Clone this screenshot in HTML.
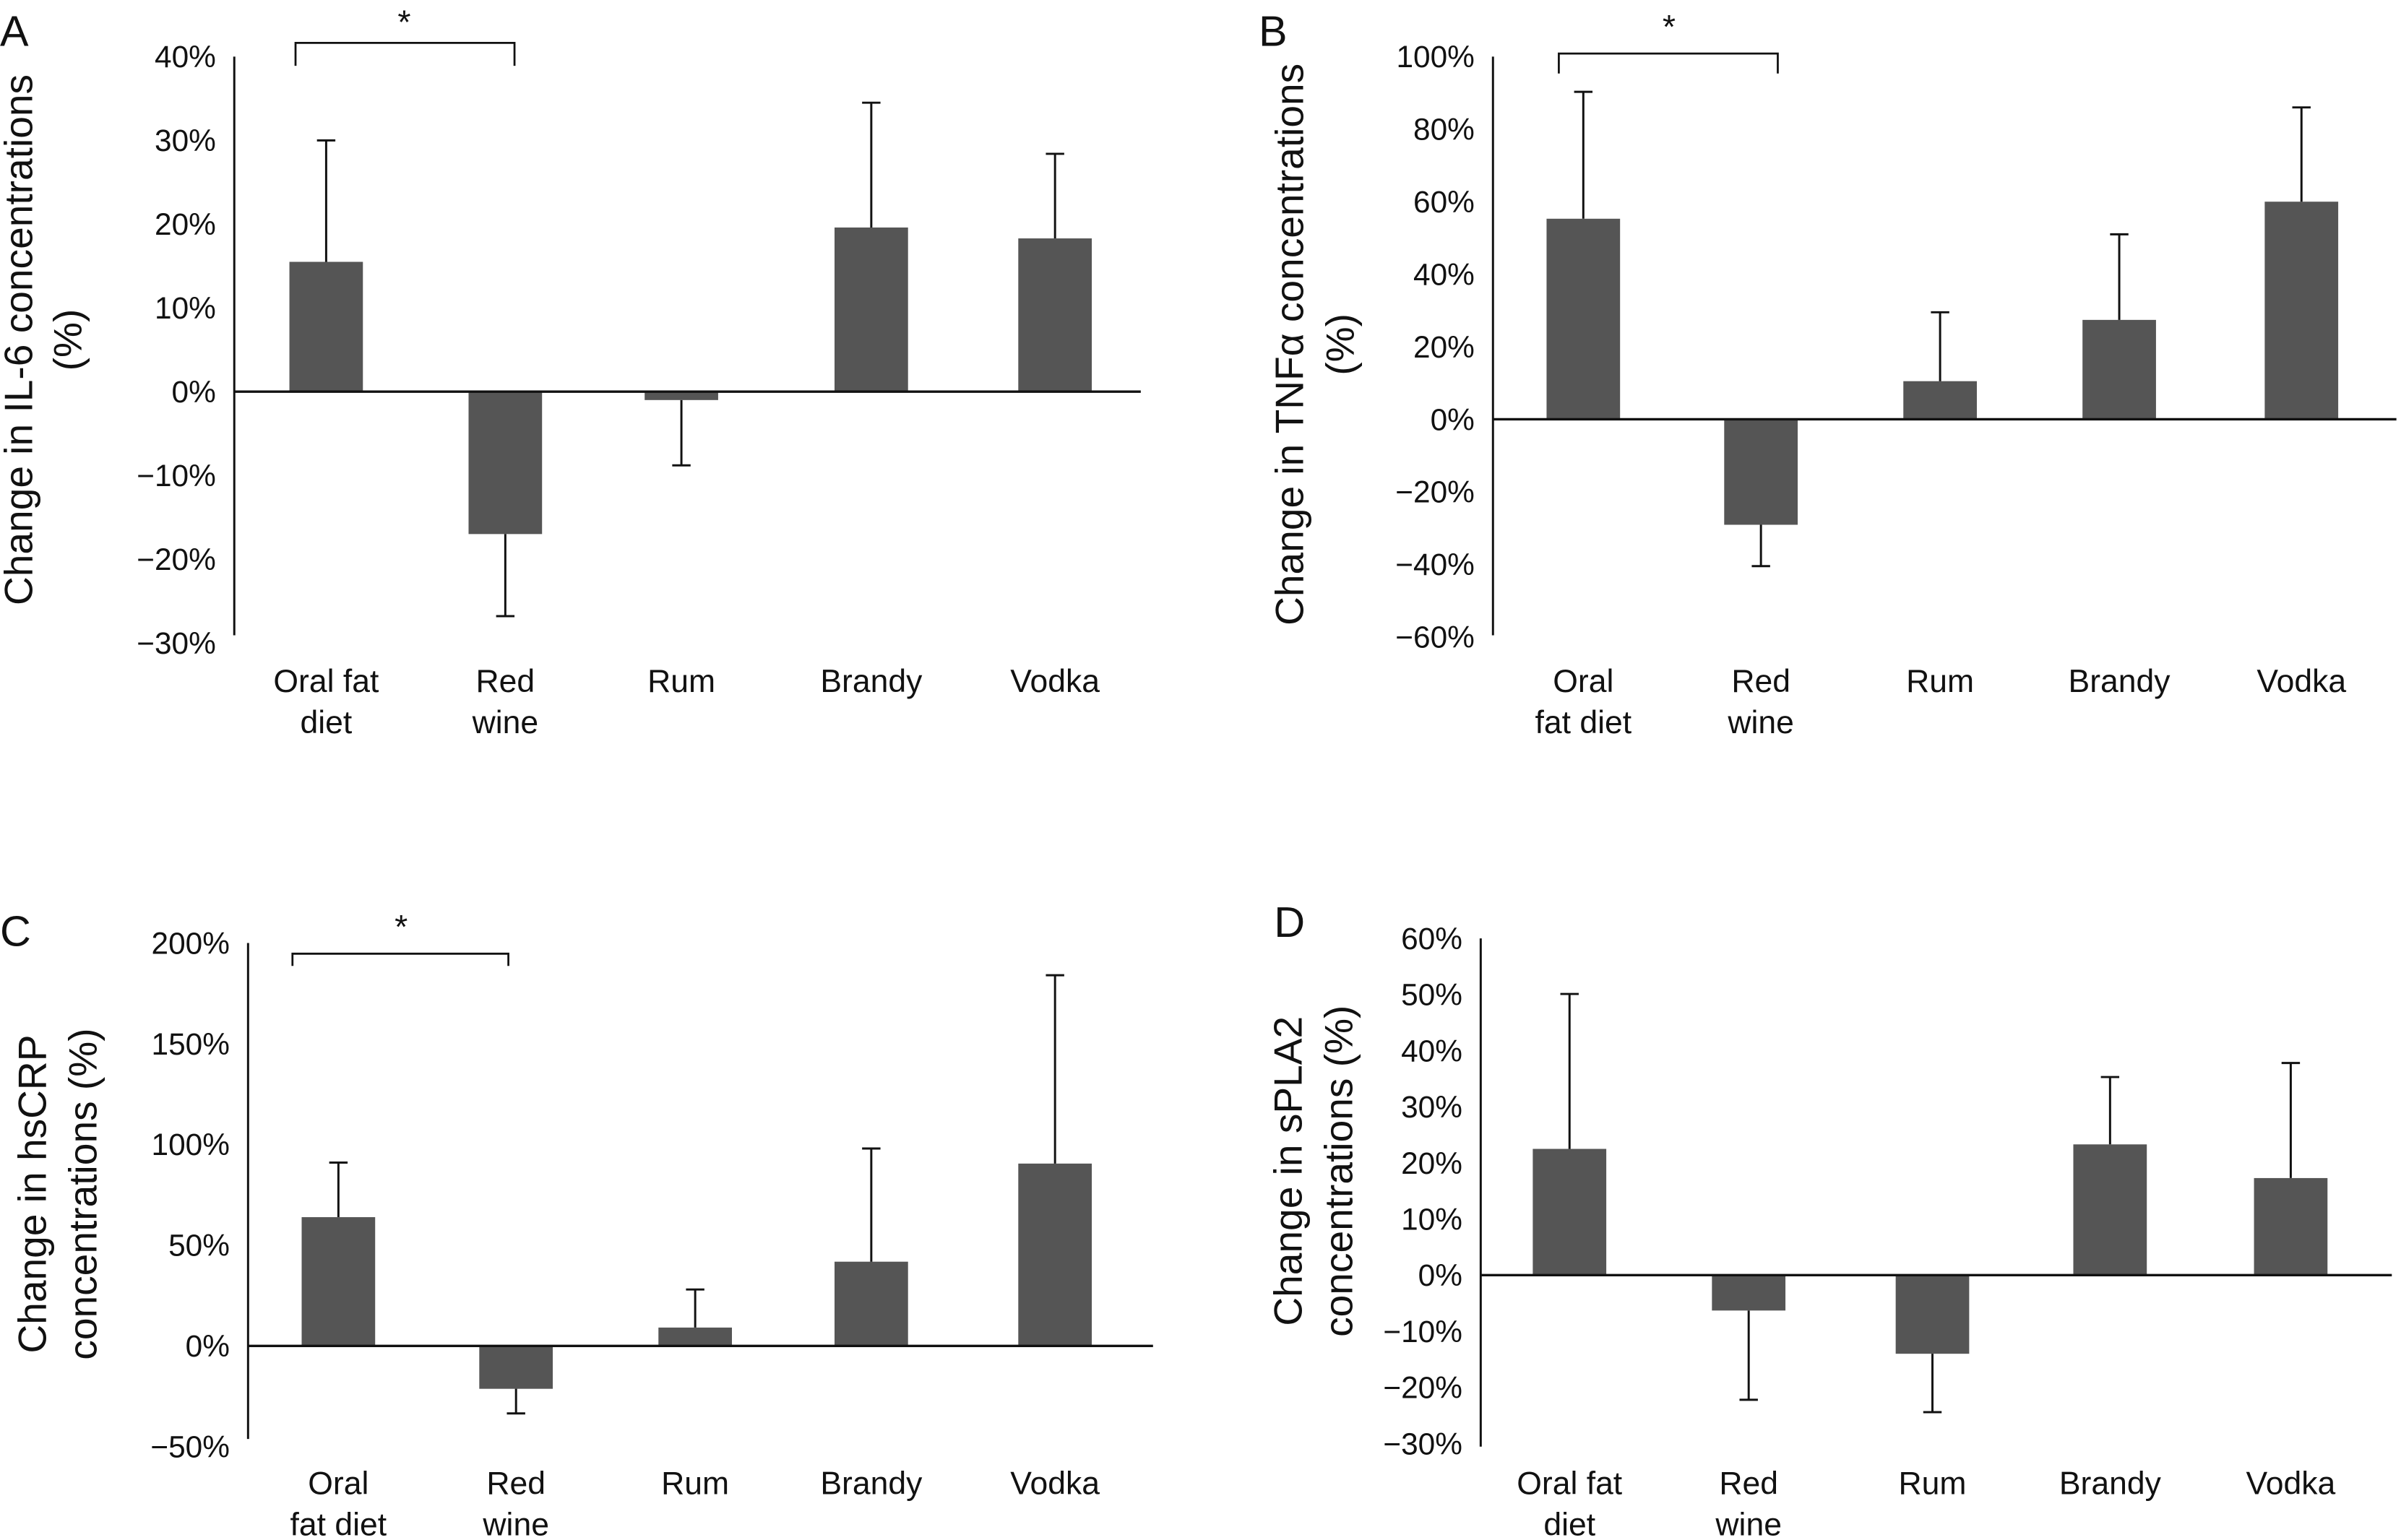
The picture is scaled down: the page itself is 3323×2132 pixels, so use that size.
<!DOCTYPE html>
<html><head><meta charset="utf-8"><style>
html,body{margin:0;padding:0;background:#fff;}
svg{display:block;}
text{font-family:"Liberation Sans",sans-serif;fill:#111;}
</style></head><body>
<svg id="fig" width="3323" height="2132" viewBox="0 0 1568 1006" preserveAspectRatio="none" xmlns="http://www.w3.org/2000/svg"></svg>
<script>
const categories = ["Oral fat diet","Red wine","Rum","Brandy","Vodka"];
const il6Values = [15.5, -17, -1, 19.6, 18.3];
const il6Errors = [30, -26.8, -8.8, 34.5, 28.4];
const il6Ticks = [40,30,20,10,0,-10,-20,-30];
const tnfValues = [55.3, -29.1, 10.5, 27.4, 60];
const tnfErrors = [90.3, -40.5, 29.5, 51, 86];
const tnfTicks = [100,80,60,40,20,0,-20,-40,-60];
const crpValues = [63.9, -21.3, 9.1, 41.8, 90.5];
const crpErrors = [91, -33.5, 28, 98, 184];
const crpTicks = [200,150,100,50,0,-50];
const splaValues = [22.5, -6.3, -14, 23.3, 17.3];
const splaErrors = [50.1, -22.2, -24.4, 35.3, 37.8];
const splaTicks = [60,50,40,30,20,10,0,-10,-20,-30];

const NS="http://www.w3.org/2000/svg";
const svg=document.getElementById('fig');
function mk(tag,attrs,parent){const e=document.createElementNS(NS,tag);for(const k in attrs)e.setAttribute(k,attrs[k]);(parent||svg).appendChild(e);return e;}

const panels=[
 {id:"a",letter:"A",lx:0,ly:30,ax:153,xEnd:745,yTop:37,yBot:420,axBot:415,vmax:40,vmin:-30,ticks:il6Ticks,vals:il6Values,errs:il6Errors,
  cx:[213,330,445,569,689],labY:444,labels:[["Oral fat","diet"],["Red","wine"],["Rum"],["Brandy"],["Vodka"]],
  title:["Change in IL-6 concentrations","(%)"],tx:[21,53],tcy:222,br:[193,336,28,43,264,22]},
 {id:"b",letter:"B",lx:822,ly:30,ax:975,xEnd:1565,yTop:37,yBot:416,axBot:415,vmax:100,vmin:-60,ticks:tnfTicks,vals:tnfValues,errs:tnfErrors,
  cx:[1034,1150,1267,1384,1503],labY:444,labels:[["Oral","fat diet"],["Red","wine"],["Rum"],["Brandy"],["Vodka"]],
  title:["Change in TNF\u03b1 concentrations","(%)"],tx:[851,884],tcy:225,br:[1018,1161,35,48,1090,25]},
 {id:"c",letter:"C",lx:0,ly:618,ax:162,xEnd:753,yTop:616,yBot:945,axBot:940,vmax:200,vmin:-50,ticks:crpTicks,vals:crpValues,errs:crpErrors,
  cx:[221,337,454,569,689],labY:968,labels:[["Oral","fat diet"],["Red","wine"],["Rum"],["Brandy"],["Vodka"]],
  title:["Change in hsCRP","concentrations (%)"],tx:[30,63],tcy:780,br:[191,332,623,631,262,613]},
 {id:"d",letter:"D",lx:832,ly:612,ax:967,xEnd:1562,yTop:613,yBot:943,axBot:945,vmax:60,vmin:-30,ticks:splaTicks,vals:splaValues,errs:splaErrors,
  cx:[1025,1142,1262,1378,1496],labY:968,labels:[["Oral fat","diet"],["Red","wine"],["Rum"],["Brandy"],["Vodka"]],
  title:["Change in sPLA2","concentrations (%)"],tx:[850,883],tcy:765,br:null}
];

panels.forEach(p=>{
  const g=mk('g',{});
  
  
  const y=v=>p.yTop+(p.vmax-v)*(p.yBot-p.yTop)/(p.vmax-p.vmin);
  const y0=y(0);
  const lt=mk('text',{x:p.lx,y:p.ly,'font-size':28},g);lt.textContent=p.letter;
  
  
  p.ticks.forEach(t=>{
    const tx=mk('text',{x:p.ax-12,y:y(t)+7,'font-size':20,'text-anchor':'end'},g);
    tx.textContent=(t<0?'\u2212'+(-t):t)+'%';
    
    
  });
  p.vals.forEach((v,i)=>{
    const cx=p.cx[i], w=48;
    const r=mk('rect',{x:cx-w/2,y:Math.min(y(v),y0),width:w,height:Math.abs(y(v)-y0),fill:'#555'},g);
    
    
    const e=p.errs[i];
    const el=mk('path',{d:`M${cx} ${y(v)}V${y(e)}M${cx-6} ${y(e)}H${cx+6}`,stroke:'#111','stroke-width':1.4,fill:'none'},g);
    
    
    p.labels[i].forEach((s,j)=>{
      const t=mk('text',{x:cx,y:p.labY+8+j*27,'font-size':21,'text-anchor':'middle'},g);
      t.textContent=s;
      
      
    });
  });
  const ya=mk('line',{x1:p.ax,x2:p.ax,y1:p.yTop,y2:p.axBot,stroke:'#111','stroke-width':1.4},g);
  
  
  const xa=mk('line',{x1:p.ax,x2:p.xEnd,y1:y0,y2:y0,stroke:'#111','stroke-width':1.6},g);
  
  
  p.title.forEach((s,j)=>{
    const t=mk('text',{x:0,y:0,'font-size':26,'text-anchor':'middle',transform:`translate(${p.tx[j]},${p.tcy}) rotate(-90)`},g);
    t.textContent=s;
    
    
  });
  if(p.br){
    const [x1,x2,yt,yb,sx,sy]=p.br;
    const b=mk('path',{d:`M${x1} ${yb}V${yt}H${x2}V${yb}`,stroke:'#111','stroke-width':1.3,fill:'none'},g);
    
    
    const s=mk('text',{x:sx,y:sy,'font-size':22,'text-anchor':'middle'},g);
    s.textContent='*';
    
    
  }
});
</script>
</body></html>
